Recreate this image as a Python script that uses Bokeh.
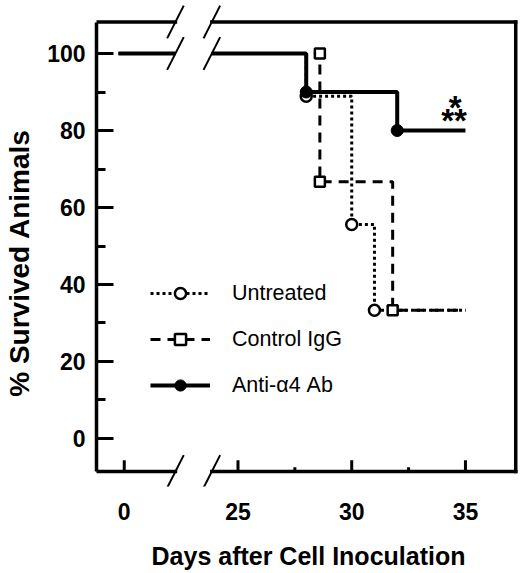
import numpy as np
from bokeh.plotting import figure
from bokeh.models import Range1d, FixedTicker, Legend, LegendItem, LinearAxis
from bokeh.core.properties import value
from bokeh.embed import file_html
from bokeh.resources import INLINE

# survival data (% survived), days after cell inoculation
untreated_days = [28, 30, 31]
untreated_surv = [88.9, 55.6, 33.3]

control_days = [28.6, 31.8]
control_surv = [66.7, 33.3]
control_mark_days = [28.6, 28.6, 31.8]
control_mark_surv = [100.0, 66.7, 33.3]

anti_days = [28, 32]
anti_surv = [90.0, 80.0]

end_day = 35
x_ticks = [20, 25, 30, 35]          # 20 is where day 0 sits on the broken axis
x_tick_labels = {20: "0"}
x_minor = [27.5, 32.5]
y_ticks = [0, 20, 40, 60, 80, 100]
y_minor = [10, 30, 50, 70, 90]

# broken axis geometry
LINE_START = 19.75
BREAK_L = 22.25
BREAK_R = 23.85
BOX_LEFT, BOX_RIGHT = 18.78, 37.21
BOX_BOTTOM, BOX_TOP = -8.57, 108.18

FONT = "Liberation Sans"
NBSP = "\u00a0"


def km_path(days, surv, start=100.0):
    xs = [LINE_START, BREAK_L, np.nan, BREAK_R]
    ys = [start, start, np.nan, start]
    prev = start
    for d, s in zip(days, surv):
        xs += [d, d]
        ys += [prev, s]
        prev = s
    xs.append(end_day)
    ys.append(prev)
    return xs, ys


p = figure(width=520, height=573,
           x_range=Range1d(18.78, 37.42), y_range=Range1d(-12.47, 113.77),
           output_backend="svg", toolbar_location=None,
           min_border_left=93, min_border_right=0,
           min_border_top=0, min_border_bottom=87)
p.outline_line_color = None
p.grid.visible = False

# y axis (left side of the box)
ya = p.yaxis[0]
ya.ticker = FixedTicker(ticks=y_ticks, minor_ticks=y_minor)
ya.bounds = (BOX_BOTTOM, BOX_TOP)
ya.axis_line_width = 3.5
ya.major_tick_in = 17
ya.major_tick_out = 0
ya.minor_tick_in = 9
ya.minor_tick_out = 0
ya.major_tick_line_width = 3
ya.minor_tick_line_width = 3
ya.major_label_standoff = 11
ya.major_label_text_font = FONT
ya.major_label_text_font_style = "bold"
ya.major_label_text_font_size = "23px"
ya.major_label_text_color = "black"

# y title on its own axis, padded so it sits a little lower like the original
ty = LinearAxis(ticker=FixedTicker(ticks=[]),
                axis_line_color=None, major_tick_line_color=None,
                minor_tick_line_color=None, major_tick_in=0, major_tick_out=0,
                minor_tick_in=0, minor_tick_out=0, major_label_standoff=0,
                axis_label="% Survived Animals" + NBSP * 5, axis_label_standoff=10,
                axis_label_text_font=FONT, axis_label_text_font_style="bold",
                axis_label_text_font_size="28px", axis_label_text_color="black")
p.add_layout(ty, "left")

# x axis: labels only, the line and ticks are drawn on the box below
xa = p.xaxis[0]
xa.ticker = FixedTicker(ticks=x_ticks, minor_ticks=[])
xa.major_label_overrides = x_tick_labels
xa.axis_line_color = None
xa.major_tick_line_color = None
xa.minor_tick_line_color = None
xa.major_tick_in = 0
xa.major_tick_out = 0
xa.major_label_standoff = 16
xa.major_label_text_font = FONT
xa.major_label_text_font_style = "bold"
xa.major_label_text_font_size = "23px"
xa.major_label_text_color = "black"
xa.axis_label = "Days after Cell Inoculation"
xa.axis_label_text_font = FONT
xa.axis_label_text_font_style = "bold"
xa.axis_label_text_font_size = "25px"
xa.axis_label_text_color = "black"
xa.axis_label_standoff = 19

# box lines with the break gap
p.segment(x0=[BOX_LEFT, BREAK_R, BOX_LEFT, BREAK_R, BOX_RIGHT],
          y0=[BOX_TOP, BOX_TOP, BOX_BOTTOM, BOX_BOTTOM, BOX_BOTTOM],
          x1=[BREAK_L, BOX_RIGHT, BREAK_L, BOX_RIGHT, BOX_RIGHT],
          y1=[BOX_TOP, BOX_TOP, BOX_BOTTOM, BOX_BOTTOM, BOX_TOP],
          line_color="black", line_width=3.5, line_cap="square")

# x ticks pointing inward
p.segment(x0=x_ticks, x1=x_ticks, y0=[BOX_BOTTOM] * len(x_ticks),
          y1=[BOX_BOTTOM + 2.9] * len(x_ticks), line_color="black", line_width=3)
p.segment(x0=x_minor, x1=x_minor, y0=[BOX_BOTTOM] * len(x_minor),
          y1=[BOX_BOTTOM + 1.1] * len(x_minor), line_color="black", line_width=3)

# curves
ux, uy = km_path(untreated_days, untreated_surv)
cx, cy = km_path(control_days, control_surv)
ax, ay = km_path(anti_days, anti_surv)

l_ctrl = p.line(cx, cy, line_color="black", line_width=3, line_dash="10 7")
l_unt = p.line(ux, uy, line_color="black", line_width=3, line_dash="3 3")
l_anti = p.line(ax, ay, line_color="black", line_width=4)

m_ctrl = p.scatter(control_mark_days, control_mark_surv, marker="square", size=10,
                   fill_color="white", line_color="black", line_width=2.5)
m_unt = p.scatter(untreated_days, untreated_surv, marker="circle", size=11,
                  fill_color="white", line_color="black", line_width=2.5)
m_anti = p.scatter(anti_days, anti_surv, marker="circle", size=12,
                   fill_color="black", line_color="black", line_width=1)

# axis break slashes
dx, dy = 0.365, 4.25
sx, sy = [], []
for yl in (BOX_TOP, 100.0, BOX_BOTTOM):
    for xb in (BREAK_L, BREAK_R):
        sx.append(xb)
        sy.append(yl)
p.segment(x0=[x - dx for x in sx], y0=[y - dy for y in sy],
          x1=[x + dx for x in sx], y1=[y + dy for y in sy],
          line_color="black", line_width=2)

# significance marks
p.text(x=[34.55, 34.5], y=[86.0, 82.6], text=["*", "**"],
       text_font=value(FONT), text_font_style="bold", text_font_size="33px",
       text_align="center", text_baseline="middle", text_color="black")

legend = Legend(items=[
    LegendItem(label="Untreated", renderers=[l_unt, m_unt]),
    LegendItem(label="Control IgG", renderers=[l_ctrl, m_ctrl]),
    LegendItem(label="Anti-\u03b14 Ab", renderers=[l_anti, m_anti]),
], location=(54, 87))
legend.padding = 0
legend.margin = 0
legend.border_line_color = None
legend.background_fill_alpha = 0
legend.glyph_width = 60
legend.glyph_height = 28
legend.spacing = 18
legend.label_standoff = 22
legend.label_text_font = FONT
legend.label_text_font_size = "21.5px"
legend.label_text_color = "black"
p.add_layout(legend)

open("out.html", "w").write(file_html(p, INLINE))
